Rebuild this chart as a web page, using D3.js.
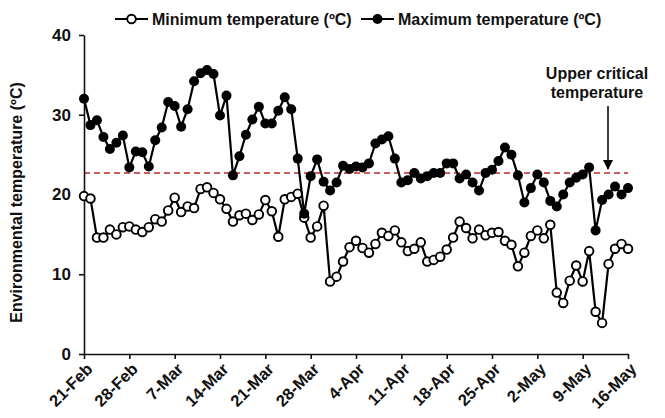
<!DOCTYPE html>
<html>
<head>
<meta charset="utf-8">
<script src="https://cdn.jsdelivr.net/npm/d3@7"></script>
<style>
  body { margin: 0; background: #fff; }
  svg text { font-family: "Liberation Sans", Arial, sans-serif; font-weight: bold; fill: #111; }
</style>
</head>
<body>
<svg width="665" height="418"></svg>
<script>
// daily readings from 21-Feb to 16-May
const startDate = new Date(Date.UTC(2018, 1, 21));

const minTemp = [
  19.8, 19.5, 14.6, 14.6, 15.6, 15.0, 15.9, 16.0, 15.6, 15.3, 15.9, 16.9, 16.6, 18.0, 19.6, 17.8, 18.5, 18.3, 20.7, 20.9, 20.2,
  19.4, 18.2, 16.6, 17.4, 17.6, 16.8, 17.5, 19.3, 17.9, 14.7, 19.4, 19.7, 20.1, 17.1, 14.6, 16.0, 18.6, 9.1, 9.7, 11.6, 13.4,
  14.2, 13.3, 12.7, 13.8, 15.2, 14.8, 15.5, 14.0, 12.9, 13.2, 14.0, 11.6, 11.8, 12.2, 13.1, 14.6, 16.6, 15.8, 14.5, 15.6, 14.9,
  15.2, 15.3, 14.2, 13.7, 11.0, 12.7, 14.8, 15.5, 14.5, 16.2, 7.7, 6.4, 9.2, 11.1, 9.1, 12.9, 5.3, 3.9, 11.3, 13.2, 13.8, 13.2
];

const maxTemp = [
  32.0, 28.7, 29.3, 27.2, 25.7, 26.5, 27.4, 23.4, 25.4, 25.3, 23.5, 26.8, 28.4, 31.6, 31.1, 28.5, 30.7, 34.2, 35.2, 35.6, 35.1,
  29.9, 32.4, 22.4, 24.8, 27.5, 29.4, 31.0, 28.9, 28.9, 30.5, 32.2, 30.7, 24.5, 17.6, 22.3, 24.4, 21.6, 20.5, 21.5, 23.6, 23.2,
  23.5, 23.4, 23.9, 26.4, 26.9, 27.3, 24.5, 21.5, 21.8, 22.7, 22.0, 22.3, 22.7, 22.7, 23.9, 23.9, 22.0, 22.5, 21.5, 20.5, 22.7,
  23.1, 24.2, 25.9, 25.0, 22.4, 19.0, 20.8, 22.5, 21.5, 19.2, 18.5, 20.0, 21.5, 22.1, 22.5, 23.4, 15.5, 19.3, 20.0, 21.0, 20.0, 20.8
];

const upperCritical = 22.7;
const yTicks = [0, 10, 20, 30, 40];
const tickEveryDays = 7;

const seriesNames = ["Minimum temperature (ºC)", "Maximum temperature (ºC)"];
const annotationLines = ["Upper critical", "temperature"];

const rows = minTemp.map((v, i) => ({
  date: d3.utcDay.offset(startDate, i),
  min: v,
  max: maxTemp[i]
}));

const svg = d3.select("svg");
const margin = { left: 84, right: 37, top: 35, bottom: 64 };
const width = 665, height = 418;

const x = d3.scaleUtc()
  .domain([startDate, rows[rows.length - 1].date])
  .range([margin.left, width - margin.right]);
const y = d3.scaleLinear()
  .domain([0, 40])
  .range([height - margin.bottom, margin.top]);

// red dashed reference line
svg.append("line")
  .attr("x1", x.range()[0]).attr("x2", x.range()[1])
  .attr("y1", y(upperCritical)).attr("y2", y(upperCritical))
  .attr("stroke", "#c0282d")
  .attr("stroke-width", 1.6)
  .attr("stroke-dasharray", "6,4");

// axes
const xTickVals = d3.range(0, rows.length, tickEveryDays).map(i => rows[i].date);
const xAxisG = svg.append("g")
  .attr("transform", `translate(0,${y(0)})`)
  .call(d3.axisBottom(x).tickValues(xTickVals).tickFormat(d3.utcFormat("%-d-%b")).tickSize(5).tickSizeOuter(0));
xAxisG.selectAll("text")
  .attr("x", 0).attr("y", 0).attr("dy", "0.35em")
  .attr("text-anchor", "end")
  .attr("transform", "translate(5,12) rotate(-45)")
  .style("font-size", "16.5px");

const yAxisG = svg.append("g")
  .attr("transform", `translate(${margin.left},0)`)
  .call(d3.axisLeft(y).tickValues(yTicks).tickSize(5).tickPadding(8).tickSizeOuter(0));
yAxisG.selectAll("text").style("font-size", "17px");

svg.selectAll(".domain, .tick line").attr("stroke", "#111").attr("stroke-width", 1.6);
svg.selectAll(".tick text").attr("fill", "#111");

svg.append("text")
  .attr("transform", `translate(22,${(y(0) + y(40)) / 2 + 8}) rotate(-90)`)
  .attr("text-anchor", "middle")
  .style("font-size", "16px")
  .text("Environmental temperature (ºC)");

// series
const lineOf = key => d3.line().x(d => x(d.date)).y(d => y(d[key]));

svg.append("path").datum(rows)
  .attr("d", lineOf("min"))
  .attr("fill", "none").attr("stroke", "#000").attr("stroke-width", 2.2);
svg.append("g").selectAll("circle").data(rows).join("circle")
  .attr("cx", d => x(d.date)).attr("cy", d => y(d.min))
  .attr("r", 4.3).attr("fill", "#fff").attr("stroke", "#000").attr("stroke-width", 1.9);

svg.append("path").datum(rows)
  .attr("d", lineOf("max"))
  .attr("fill", "none").attr("stroke", "#000").attr("stroke-width", 2.2);
svg.append("g").selectAll("circle").data(rows).join("circle")
  .attr("cx", d => x(d.date)).attr("cy", d => y(d.max))
  .attr("r", 5).attr("fill", "#000");

// annotation
const ann = svg.append("g");
ann.selectAll("text").data(annotationLines).join("text")
  .attr("x", 597).attr("y", (d, i) => 79 + i * 19)
  .attr("text-anchor", "middle")
  .style("font-size", "16px")
  .text(d => d);
svg.append("defs").append("marker")
  .attr("id", "arrow").attr("viewBox", "0 0 10 10")
  .attr("refX", 9).attr("refY", 5)
  .attr("markerWidth", 7).attr("markerHeight", 7)
  .attr("orient", "auto")
  .append("path").attr("d", "M0,0 L10,5 L0,10 z").attr("fill", "#000");
ann.append("line")
  .attr("x1", 608).attr("x2", 608)
  .attr("y1", 106).attr("y2", 169)
  .attr("stroke", "#000").attr("stroke-width", 1.5)
  .attr("marker-end", "url(#arrow)");

// legend
const legend = svg.append("g").attr("transform", "translate(0,19)");
const legendX = [115, 361];
seriesNames.forEach((name, i) => {
  const g = legend.append("g").attr("transform", `translate(${legendX[i]},0)`);
  g.append("line").attr("x1", 0).attr("x2", 33).attr("stroke", "#000").attr("stroke-width", 2.2);
  g.append("circle").attr("cx", 16.5).attr("r", i === 0 ? 4.3 : 5)
    .attr("fill", i === 0 ? "#fff" : "#000")
    .attr("stroke", "#000").attr("stroke-width", i === 0 ? 1.9 : 0);
  g.append("text").attr("x", 37).attr("dy", "0.35em").style("font-size", "16px").text(name);
});
</script>
</body>
</html>
